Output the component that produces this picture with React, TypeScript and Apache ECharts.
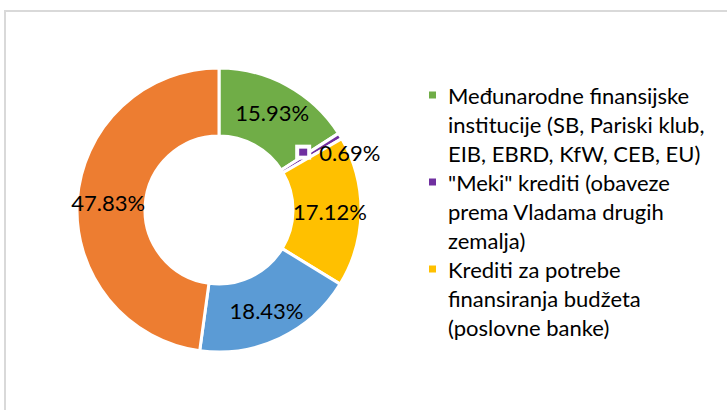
import React, { useEffect, useRef } from "react";
import * as echarts from "echarts";

const categories = [
  "Međunarodne finansijske institucije (SB, Pariski klub, EIB, EBRD, KfW, CEB, EU)",
  "\"Meki\" krediti (obaveze prema Vladama drugih zemalja)",
  "Krediti za potrebe finansiranja budžeta (poslovne banke)",
  "Ostali krediti",
  "Ostalo",
];
const values = [15.93, 0.69, 17.12, 18.43, 47.83];
const colors = ["#70AD47", "#7030A0", "#FFC000", "#5B9BD5", "#ED7D31"];
const legendLines = [
  ["Međunarodne finansijske", "institucije (SB, Pariski klub,", "EIB, EBRD, KfW, CEB, EU)"],
  ["\"Meki\" krediti (obaveze", "prema Vladama drugih", "zemalja)"],
  ["Krediti za potrebe", "finansiranja budžeta", "(poslovne banke)"],
];

const FONT = "Lato, 'Open Sans', sans-serif";

export default function App() {
  const ref = useRef<HTMLDivElement>(null);
  useEffect(() => {
    if (!ref.current) return;
    const chart = echarts.init(ref.current, null, { renderer: "svg" });
    const lineH = 29;
    const legendTop = 95;
    const legendGraphics: any[] = [];
    let line = 0;
    legendLines.forEach((lines, i) => {
      const cy = legendTop + line * lineH;
      legendGraphics.push({
        type: "rect",
        shape: { x: 429, y: cy - 3.5, width: 7, height: 7 },
        style: { fill: colors[i] },
      });
      legendGraphics.push({
        type: "text",
        x: 448,
        y: cy - lineH / 2,
        style: {
          text: lines.join("\n"),
          font: `22px ${FONT}`,
          lineHeight: lineH,
          fill: "#000",
          verticalAlign: "top",
          align: "left",
        },
      });
      line += lines.length;
    });

    chart.setOption({
      animation: false,
      backgroundColor: "#fff",
      graphic: [
        {
          type: "rect",
          shape: { x: 5, y: 11, width: 800, height: 500 },
          style: { fill: "none", stroke: "#d9d9d9", lineWidth: 2 },
          silent: true,
        },
        ...legendGraphics,
      ],
      series: [
        {
          type: "pie",
          center: [219, 210],
          radius: [74, 142],
          startAngle: 90,
          clockwise: true,
          avoidLabelOverlap: false,
          itemStyle: { borderColor: "#fff", borderWidth: 3 },
          label: {
            show: true,
            position: "inside",
            fontFamily: FONT,
            fontSize: 22,
            color: "#000",
            formatter: (p: any) =>
              p.dataIndex === 1
                ? `{m|}{t|${p.value.toFixed(2)}%}`
                : `${p.value.toFixed(2)}%`,
            rich: {
              m: {
                width: 8,
                height: 7,
                backgroundColor: colors[1],
                borderColor: "#fff",
                borderWidth: 4,
              },
              t: { fontFamily: FONT, fontSize: 22, color: "#000", padding: [0, 0, 0, 12] },
            },
          },
          labelLayout: (p: any) => (p.dataIndex === 1 ? { dx: 26 } : {}),
          labelLine: { show: false },
          emphasis: { disabled: true },
          data: categories.map((name, i) => ({
            name,
            value: values[i],
            itemStyle: { color: colors[i] },
          })),
        },
      ],
    });
    return () => chart.dispose();
  }, []);
  return (
    <div
      ref={ref}
      style={{ position: "absolute", left: 0, top: 0, width: 727, height: 410 }}
    />
  );
}
